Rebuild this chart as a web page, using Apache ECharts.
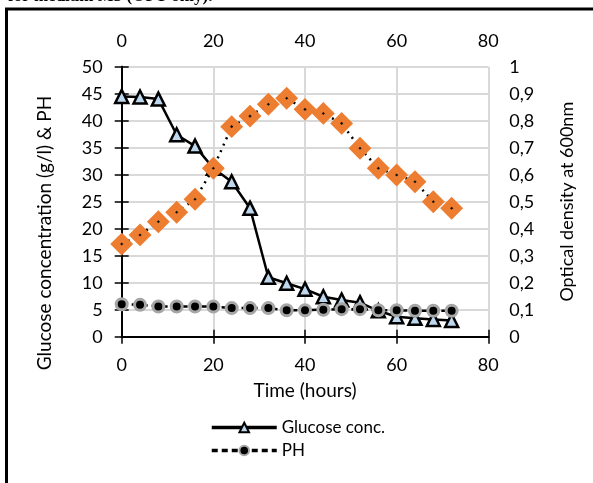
<!DOCTYPE html>
<html>
<head>
<meta charset="utf-8">
<script src="https://cdn.jsdelivr.net/npm/echarts@6/dist/echarts.min.js"></script>
<style>
html,body{margin:0;padding:0;background:#fff;}
#c{width:593px;height:483px;}
</style>
</head>
<body>
<div id="c"></div>
<script>
// ---- data ----
var timeHours = [0,4,8,12,16,20,24,28,32,36,40,44,48,52,56,60,64,68,72];
var glucose = [44.5,44.4,44.0,37.4,35.3,31.2,28.7,23.8,11.0,9.9,8.8,7.4,6.8,6.3,4.8,3.7,3.4,3.2,3.0];
var ph = [6.0,5.9,5.6,5.6,5.6,5.6,5.3,5.3,5.3,4.9,4.9,5.0,5.1,5.1,4.9,4.9,4.8,4.8,4.8];
var opticalDensity = [0.343,0.377,0.426,0.461,0.509,0.624,0.778,0.817,0.861,0.883,0.842,0.827,0.790,0.698,0.624,0.599,0.574,0.500,0.476];
var seriesNames = ['Glucose conc.', 'PH', 'Optical density'];
var leftTitle = 'Glucose concentration (g/l) & PH';
var rightTitle = 'Optical density at 600nm';
var xTitle = 'Time (hours)';
var topCaption = 'for medium M3 (OPT only).';

function pairs(xs, ys){ return xs.map(function(x,i){ return [x, ys[i]]; }); }

var FONT = 'Lato';
var chart = echarts.init(document.getElementById('c'), null, {renderer:'canvas'});
var axisLine = {show:true, lineStyle:{color:'#000', width:2}};
var tick = {show:true, inside:false, length:7, lineStyle:{color:'#000', width:1.5}};
var lbl = {color:'#000', fontFamily:FONT, fontSize:18};

chart.setOption({
  animation:false,
  backgroundColor:'#fff',
  grid:{left:121.7, right:104.7, top:66.7, bottom:146.3, containLabel:false},
  legend:{
    data:[seriesNames[0], seriesNames[1]],
    orient:'vertical', left:205, top:414,
    itemWidth:65, itemHeight:12, itemGap:6,
    lineStyle:{width:3.5},
    textStyle:{color:'#000', fontFamily:FONT, fontSize:17}
  },
  xAxis:[
    {type:'value', position:'bottom', min:0, max:80, interval:20,
     name:xTitle, nameLocation:'middle', nameGap:45,
     nameTextStyle:{color:'#000', fontFamily:FONT, fontSize:19},
     axisLine:axisLine, axisTick:tick,
     axisLabel:Object.assign({margin:19}, lbl),
     splitLine:{show:true, lineStyle:{color:'#d9d9d9', width:2}}},
    {type:'value', position:'top', min:0, max:80, interval:20,
     axisLine:axisLine, axisTick:tick,
     axisLabel:Object.assign({margin:17}, lbl),
     splitLine:{show:false}}
  ],
  yAxis:[
    {type:'value', position:'left', min:0, max:50, interval:5,
     axisLine:axisLine, axisTick:tick,
     axisLabel:Object.assign({margin:19}, lbl),
     splitLine:{show:true, lineStyle:{color:'#d9d9d9', width:2}}},
    {type:'value', position:'right', min:0, max:1, interval:0.1,
     name:rightTitle, nameLocation:'middle', nameGap:70, nameRotate:90,
     nameTextStyle:{color:'#000', fontFamily:FONT, fontSize:18},
     axisLine:axisLine, axisTick:tick,
     axisLabel:Object.assign({margin:21, formatter:function(v){ return String(+v.toFixed(1)).replace('.', ','); }}, lbl),
     splitLine:{show:false}}
  ],
  graphic:[
    {type:'line', shape:{x1:5, y1:9, x2:593, y2:9}, style:{stroke:'#000', lineWidth:3}},
    {type:'line', shape:{x1:6.5, y1:9, x2:6.5, y2:483}, style:{stroke:'#000', lineWidth:3}},
    {type:'text', x:8, y:5, style:{text:topCaption, fill:'#000', font:'bold 17px "Liberation Serif"', textVerticalAlign:'bottom'}},
    {type:'text', x:45, y:233, rotation:Math.PI/2,
     style:{text:leftTitle, fill:'#000', font:'19px Lato', textAlign:'center', textVerticalAlign:'middle'}}
  ],
  series:[
    {name:seriesNames[0], type:'line', xAxisIndex:0, yAxisIndex:0, data:pairs(timeHours, glucose),
     symbol:'triangle', symbolSize:13,
     lineStyle:{color:'#000', width:2.5},
     itemStyle:{color:'#BDD7EE', borderColor:'#000', borderWidth:2.5}},
    {name:seriesNames[1], type:'line', xAxisIndex:0, yAxisIndex:0, data:pairs(timeHours, ph),
     symbol:'circle', symbolSize:11,
     lineStyle:{color:'#000', width:2.5, type:[6,4]},
     itemStyle:{color:'#000', borderColor:'#a6a6a6', borderWidth:3}},
    {name:seriesNames[2], type:'line', xAxisIndex:0, yAxisIndex:1, data:pairs(timeHours, opticalDensity),
     symbol:'diamond', symbolSize:13,
     lineStyle:{color:'#000', width:2.5, type:[2,5]},
     itemStyle:{color:'#111', borderColor:'#ED7D31', borderWidth:7}}
  ]
});
</script>
</body>
</html>
